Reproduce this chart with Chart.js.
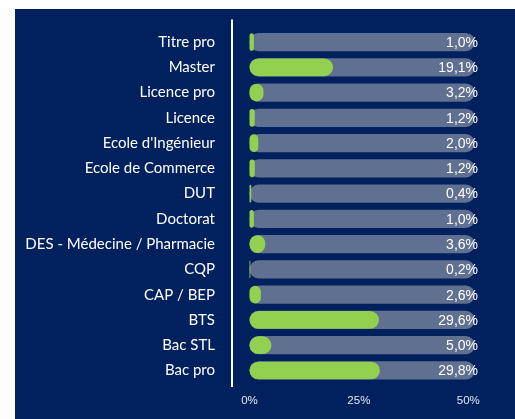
<!DOCTYPE html>
<html>
<head>
<meta charset="utf-8">
<script src="https://cdn.jsdelivr.net/npm/chart.js@4.4.1/dist/chart.umd.min.js"></script>
<style>
  html, body { margin: 0; padding: 0; background: #ffffff; }
  #panel { position: absolute; left: 15px; top: 9px; width: 500px; height: 410px; background: #00205e; }
  #chart { display: block; }
</style>
</head>
<body>
<div id="panel"><canvas id="chart" width="500" height="410"></canvas></div>
<script>
// --- données ---
const diplomes = ['Titre pro', 'Master', 'Licence pro', 'Licence', "Ecole d'Ingénieur", 'Ecole de Commerce', 'DUT',
  'Doctorat', 'DES - Médecine / Pharmacie', 'CQP', 'CAP / BEP', 'BTS', 'Bac STL', 'Bac pro'];
const parts = [1.0, 19.1, 3.2, 1.2, 2.0, 1.2, 0.4, 1.0, 3.6, 0.2, 2.6, 29.6, 5.0, 29.8];
const fond = diplomes.map(() => 51.5);   // piste grise derrière chaque barre
const graduations = [0, 25, 50];

const NAVY = '#00205e';
const GREEN = '#92d050';
const TRACK = '#607090';

const fmt = v => v.toFixed(1).replace('.', ',') + '%';

// ligne verticale blanche à gauche des barres
const axisLine = {
  id: 'axisLine',
  afterDraw(chart) {
    const { ctx, chartArea } = chart;
    ctx.save();
    ctx.strokeStyle = '#ffffff';
    ctx.lineWidth = 2;
    ctx.beginPath();
    ctx.moveTo(chartArea.left, chartArea.top - 10);
    ctx.lineTo(chartArea.left, chartArea.bottom + 4);
    ctx.stroke();
    ctx.restore();
  }
};

// pourcentages à droite de chaque piste
const valueLabels = {
  id: 'valueLabels',
  afterDatasetsDraw(chart) {
    const { ctx, chartArea } = chart;
    const meta = chart.getDatasetMeta(0);
    ctx.save();
    ctx.font = '14px "Liberation Sans", Arial, sans-serif';
    ctx.fillStyle = '#ffffff';
    ctx.textAlign = 'right';
    ctx.textBaseline = 'middle';
    meta.data.forEach((bar, i) => {
      ctx.fillText(fmt(parts[i]), chartArea.right + 1, bar.y + 1);
    });
    ctx.restore();
  }
};

new Chart(document.getElementById('chart'), {
  type: 'bar',
  data: {
    labels: diplomes,
    datasets: [
      {
        data: parts,
        backgroundColor: GREEN,
        borderRadius: 9,
        borderSkipped: false,
        grouped: false,
        barPercentage: 0.7,
        categoryPercentage: 1
      },
      {
        data: fond,
        backgroundColor: TRACK,
        borderRadius: 9,
        borderSkipped: false,
        grouped: false,
        barPercentage: 0.72,
        categoryPercentage: 1
      }
    ]
  },
  options: {
    indexAxis: 'y',
    responsive: false,
    animation: false,
    layout: { padding: { top: 20.4, bottom: 0, left: 0, right: 38 } },
    plugins: { legend: { display: false }, tooltip: { enabled: false } },
    scales: {
      x: {
        min: -4,
        max: 52,
        afterBuildTicks: s => { s.ticks = graduations.map(v => ({ value: v })); },
        afterFit: s => { s.height = 35.9; s.paddingLeft = 0; s.paddingRight = 0; },
        grid: { display: false, drawTicks: false },
        border: { display: false },
        ticks: {
          padding: 11,
          color: '#e6e9f0',
          font: { family: '"Liberation Sans", Arial, sans-serif', size: 11.5 },
          callback: v => v + '%'
        }
      },
      y: {
        afterFit: s => { s.width = 217; s.paddingTop = 0; s.paddingBottom = 0; },
        grid: { display: false, drawTicks: false },
        border: { display: false },
        ticks: {
          padding: 17,
          color: '#ffffff',
          font: { family: 'Lato, "Open Sans", sans-serif', size: 15 }
        }
      }
    }
  },
  plugins: [axisLine, valueLabels]
});
</script>
</body>
</html>
